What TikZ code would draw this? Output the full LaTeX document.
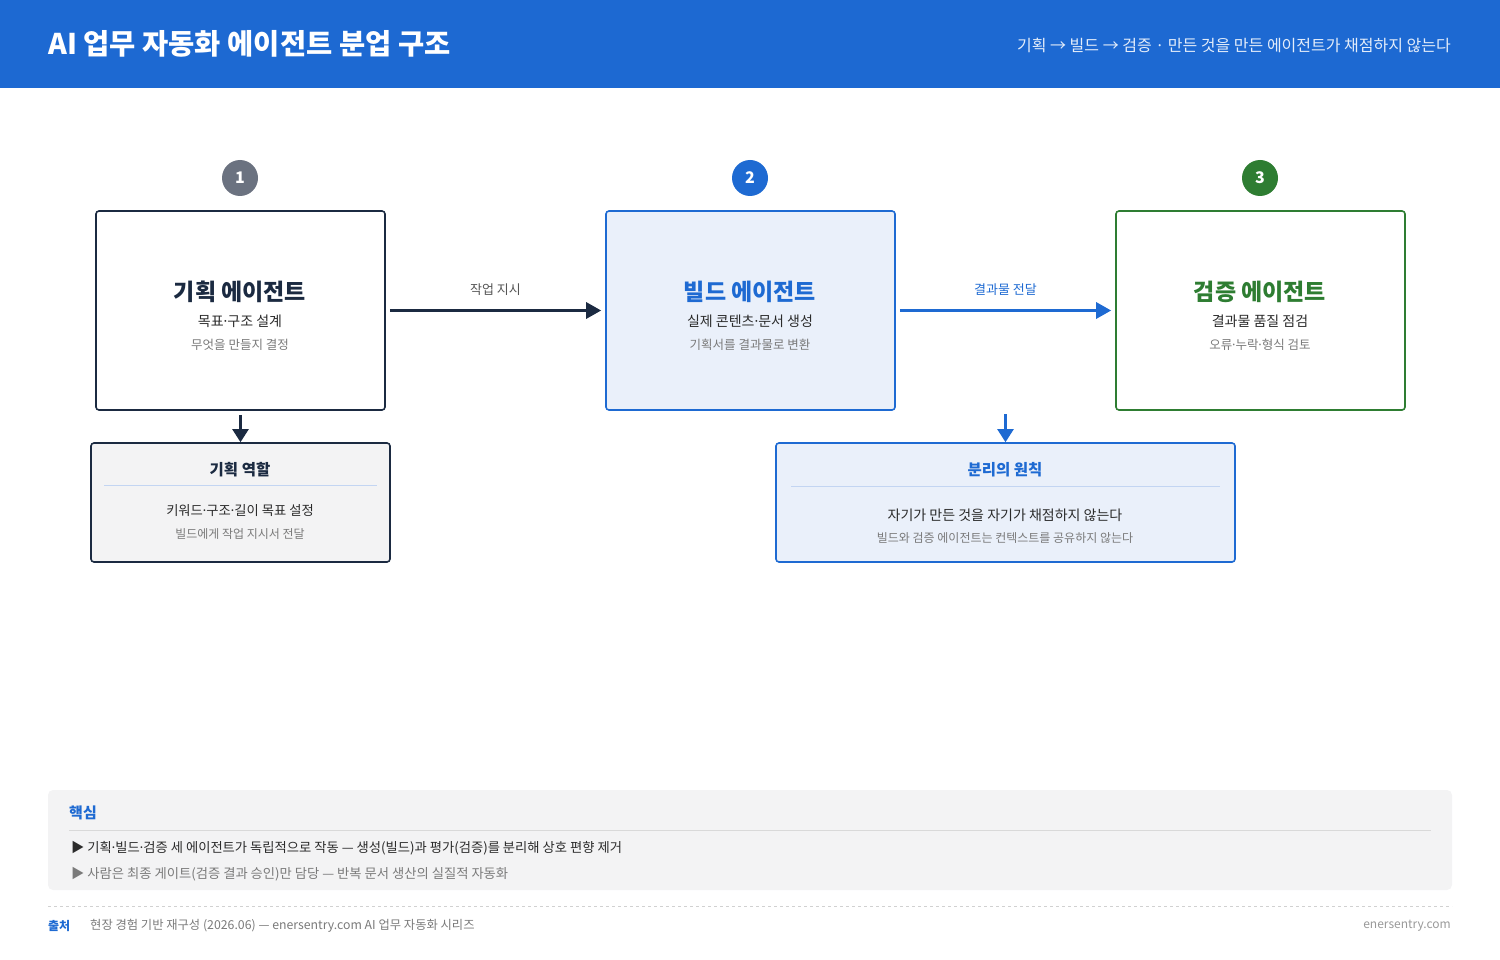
\documentclass[tikz,border=0pt]{standalone}
\usepackage{fontspec}
\usepackage{tikz}
\usetikzlibrary{arrows.meta}
\setmainfont{Noto Sans CJK KR}
\definecolor{hdBlue}{HTML}{1D69D2}
\definecolor{agNavy}{HTML}{1B2A41}
\definecolor{agBlue}{HTML}{1E6AD2}
\definecolor{agGreen}{HTML}{2E7D32}
\definecolor{agGray}{HTML}{6B7280}
\definecolor{paleBlue}{HTML}{EAF0FA}
\definecolor{paleGray}{HTML}{F3F3F4}
\definecolor{txDark}{HTML}{2B2B2B}
\definecolor{txGray}{HTML}{7A7A7A}
\definecolor{ruleBlue}{HTML}{C3D5F2}
\newcommand{\dotsep}{\kern-.15em·\kern-.15em}

\begin{document}
\begin{tikzpicture}[x=1pt, y=-1pt,
    agent/.style={rectangle, rounded corners=3pt, line width=1.6pt, minimum width=289pt, minimum height=199pt},
    role/.style={rectangle, rounded corners=3pt, line width=1.6pt, minimum height=119pt},
    badge/.style={circle, minimum size=36pt, inner sep=0pt, text=white, font=\fontsize{16}{16}\selectfont\bfseries},
    ttl/.style={font=\fontsize{23}{23}\selectfont\bfseries, inner sep=0pt},
    sub/.style={font=\fontsize{14}{14}\selectfont, text=txDark, inner sep=0pt},
    note/.style={font=\fontsize{12.5}{12.5}\selectfont, text=txGray, inner sep=0pt},
    flow/.style={line width=3pt, -{Triangle[length=15pt, width=16pt]}},
    drop/.style={line width=2.2pt, -{Triangle[length=13pt, width=16pt]}},
    lbl/.style={font=\fontsize{13.3}{13.3}\selectfont, inner sep=0pt}
  ]
  \useasboundingbox (0,0) rectangle (1500,960);

  % header
  \fill[hdBlue] (0,0) rectangle (1500,88);
  \node[anchor=west, text=white, font=\fontsize{28.5}{28.5}\selectfont\bfseries, inner sep=0pt] (title) at (48,44) {AI 업무 자동화 에이전트 분업 구조};
  \node[anchor=east, text=white!88!hdBlue, font=\fontsize{16}{16}\selectfont, inner sep=0pt] (tagline) at (1451,45) {기획 → 빌드 → 검증 · 만든 것을 만든 에이전트가 채점하지 않는다};

  % step badges
  \node[badge, fill=agGray]  (n1) at (240,178)  {1};
  \node[badge, fill=agBlue]  (n2) at (750,178)  {2};
  \node[badge, fill=agGreen] (n3) at (1260,178) {3};

  % agents
  \node[agent, draw=agNavy, fill=white]     (plan)  at (240.5,310.5)  {};
  \node[agent, draw=agBlue, fill=paleBlue]  (build) at (750.5,310.5)  {};
  \node[agent, draw=agGreen, fill=white]    (check) at (1260.5,310.5) {};

  \node[ttl, text=agNavy]  (plant)  at (240,292)  {기획 에이전트};
  \node[sub]               (plans)  at (240,321)  {목표\dotsep 구조 설계};
  \node[note]              (plann)  at (240,345)  {무엇을 만들지 결정};
  \node[ttl, text=agBlue]  (buildt) at (750,292)  {빌드 에이전트};
  \node[sub]               (builds) at (750,321)  {실제 콘텐츠\dotsep 문서 생성};
  \node[note]              (buildn) at (750,345)  {기획서를 결과물로 변환};
  \node[ttl, text=agGreen] (checkt) at (1260,292) {검증 에이전트};
  \node[sub]               (checks) at (1260,321) {결과물 품질 점검};
  \node[note]              (checkn) at (1260,345) {오류\dotsep 누락\dotsep 형식 검토};

  \draw[flow, agNavy] ([xshift=4pt]plan.east) -- ([xshift=-4pt]build.west)
    node[midway, above=13pt, lbl, font=\fontsize{13}{13}\selectfont, text=txDark!80] {작업 지시};
  \draw[flow, agBlue] ([xshift=4pt]build.east) -- ([xshift=-4pt]check.west)
    node[midway, above=13pt, lbl, font=\fontsize{13}{13}\selectfont, text=agBlue] {결과물 전달};

  % planning role
  \node[role, draw=agNavy, fill=paleGray, minimum width=299pt] (rolebox) at (240.5,502.5) {};
  \draw[agNavy, drop] ([yshift=-4pt]plan.south) -- (rolebox.north);
  \node[font=\fontsize{15.5}{15.5}\selectfont\bfseries, text=agNavy, inner sep=0pt] (rolet) at (240,470) {기획 역할};
  \draw[ruleBlue, line width=0.8pt] (104,485) -- (377,485);
  \node[sub, font=\fontsize{13.3}{13.3}\selectfont] (roles) at (240,511) {키워드\dotsep 구조\dotsep 길이 목표 설정};
  \node[note, font=\fontsize{12}{12}\selectfont] (rolen) at (240,534) {빌드에게 작업 지시서 전달};

  % separation principle
  \coordinate (split) at (1005.5,414);
  \node[role, draw=agBlue, fill=paleBlue, minimum width=459pt] (rule) at (1005.5,502.5) {};
  \draw[agBlue, drop] (split) -- (rule.north);
  \node[font=\fontsize{15.5}{15.5}\selectfont\bfseries, text=agBlue, inner sep=0pt] (rulet) at (1005,470) {분리의 원칙};
  \draw[ruleBlue, line width=0.8pt] (791,486) -- (1220,486);
  \node[sub] (rules) at (1005,515) {자기가 만든 것을 자기가 채점하지 않는다};
  \node[note, font=\fontsize{12}{12}\selectfont] (rulen) at (1005,538) {빌드와 검증 에이전트는 컨텍스트를 공유하지 않는다};

  % key points
  \node[rectangle, rounded corners=5pt, fill=paleGray, minimum width=1404pt, minimum height=100pt] (key) at (750,840) {};
  \node[anchor=west, font=\fontsize{15}{15}\selectfont\bfseries, text=agBlue, inner sep=0pt] (keyt) at (69,813) {핵심};
  \draw[black!15, line width=0.8pt] (69,830) -- (1431,830);
  \node[anchor=west, lbl, text=txDark] (key1) at (71,848) {▶ 기획\dotsep 빌드\dotsep 검증 세 에이전트가 독립적으로 작동 — 생성(빌드)과 평가(검증)를 분리해 상호 편향 제거};
  \node[anchor=west, lbl, text=txGray] (key2) at (71,874) {▶ 사람은 최종 게이트(검증 결과 승인)만 담당 — 반복 문서 생산의 실질적 자동화};

  % footer
  \draw[black!18, dashed, line width=0.6pt] (48,906) -- (1452,906);
  \node[anchor=west, font=\fontsize{12}{12}\selectfont\bfseries, text=agBlue, inner sep=0pt] (src) at (48,926) {출처};
  \node[anchor=west, font=\fontsize{12.3}{12.3}\selectfont, text=txGray, inner sep=0pt] (srct) at (90,926) {현장 경험 기반 재구성 (2026.06) — enersentry.com AI 업무 자동화 시리즈};
  \node[anchor=east, font=\fontsize{12}{12}\selectfont, text=black!40, inner sep=0pt] (site) at (1451,926) {enersentry.com};
\end{tikzpicture}
\end{document}
